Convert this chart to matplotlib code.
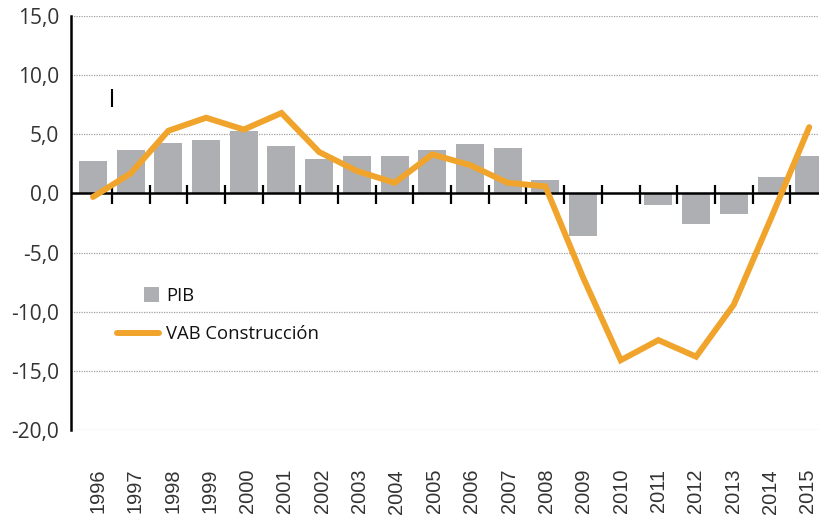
import matplotlib
matplotlib.use("Agg")
import matplotlib.pyplot as plt
import matplotlib.transforms as mtransforms
from matplotlib.patches import Rectangle, Patch
from matplotlib.lines import Line2D
from matplotlib.legend_handler import HandlerPatch
from matplotlib.ticker import FuncFormatter
import numpy as np

years = ["1996", "1997", "1998", "1999", "2000", "2001", "2002", "2003", "2004", "2005",
         "2006", "2007", "2008", "2009", "2010", "2011", "2012", "2013", "2014", "2015"]
pib = [2.7, 3.7, 4.3, 4.5, 5.3, 4.0, 2.9, 3.2, 3.2, 3.7,
       4.2, 3.8, 1.1, -3.6, 0.0, -1.0, -2.6, -1.7, 1.4, 3.2]
vab_construccion = [-0.3, 1.7, 5.3, 6.4, 5.4, 6.8, 3.5, 1.9, 0.9, 3.3,
                    2.4, 0.9, 0.6, -7.1, -14.1, -12.4, -13.8, -9.4, -2.0, 5.6]
yticks = [15, 10, 5, 0, -5, -10, -15, -20]

BAR = "#AEAFB3"
ORANGE = "#F0A42B"
TXT = "#333333"

fig = plt.figure(figsize=(8.19, 5.16), dpi=100)
W, H = 819, 516
ax = fig.add_axes([71 / W, 1 - 430 / H, (819 - 71) / W, (430 - 16) / H])

x = np.arange(len(years))
ax.bar(x, pib, width=0.743, color=BAR, zorder=2)
ax.plot(x, vab_construccion, color=ORANGE, lw=4.3, solid_capstyle="round",
        solid_joinstyle="miter", zorder=4)

ax.set_xlim(-0.584, 19.26)
ax.set_ylim(-20, 15)

# grid
for v in yticks:
    if v != 0:
        ax.axhline(v, color="#A0A0A0", lw=0.9, ls=(0, (1, 1)), zorder=1)
ax.axhline(0, color="black", lw=1.8, zorder=3)
# category boundary ticks on the zero line
ax.vlines(x[:-1] + 0.5, -0.9, 0.68, color="black", lw=1.6, zorder=3)
# stray mark
ax.vlines([0.5], 7.3, 8.8, color="black", lw=1.5, zorder=3)

for s in ["top", "right", "bottom"]:
    ax.spines[s].set_visible(False)
ax.spines["left"].set_linewidth(1.8)
ax.spines["left"].set_color("black")

ax.set_yticks(yticks)
ax.yaxis.set_major_formatter(FuncFormatter(lambda v, p: f"{v:.1f}".replace(".", ",")))
ax.tick_params(axis="y", length=0, pad=8.5, labelsize=15, labelcolor=TXT)
for lab in ax.get_yticklabels():
    lab.set_fontfamily("Open Sans")

ax.set_xticks(x)
ax.set_xticklabels(years, rotation=90, fontfamily="Liberation Sans", fontsize=14.4,
                   color=TXT, va="top", ha="center")
ax.tick_params(axis="x", length=0, pad=28)
n = len(years)
for i, lab in enumerate(ax.get_xticklabels()):
    dx = 5.0 - 6.3 * i / (n - 1)
    off = mtransforms.ScaledTranslation(dx / 100, 0, fig.dpi_scale_trans)
    lab.set_transform(lab.get_transform() + off)


def square_patch(legend, orig_handle, xdescent, ydescent, width, height, fontsize):
    s = height * 1.12
    return Rectangle((-xdescent + width - s, -ydescent - (s - height) / 2), s, s)


handles = [Patch(facecolor=BAR, edgecolor="none", label="PIB"),
           Line2D([], [], color=ORANGE, lw=4.3, solid_capstyle="round", label="VAB Construcción")]
leg = ax.legend(handles=handles, loc="upper left",
                bbox_to_anchor=(117 / W, 1 - 287 / H), bbox_transform=fig.transFigure,
                frameon=False, handlelength=2.25, handletextpad=0.4, labelspacing=1.1,
                borderpad=0, borderaxespad=0,
                prop={"family": "Open Sans", "size": 13.3},
                handler_map={Patch: HandlerPatch(patch_func=square_patch)})
for t in leg.get_texts():
    t.set_color("#111111")

fig.savefig("out.png", dpi=100)
